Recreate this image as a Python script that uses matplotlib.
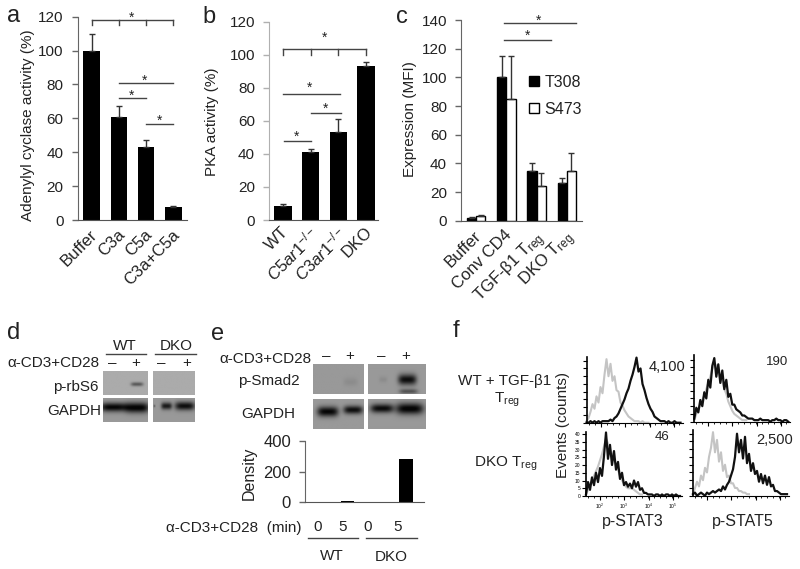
import numpy as np
import matplotlib
matplotlib.use('Agg')
import matplotlib.pyplot as plt
from matplotlib.patches import Patch
from matplotlib.transforms import ScaledTranslation

W, H = 800, 569

plt.rcParams['font.family'] = ['Liberation Sans', 'DejaVu Sans']
plt.rcParams['mathtext.fontset'] = 'custom'
plt.rcParams['mathtext.rm'] = 'Liberation Sans'
plt.rcParams['mathtext.it'] = 'Liberation Sans:italic'
plt.rcParams['text.color'] = '#222222'

# panel a
a_labels = ['Buffer', 'C3a', 'C5a', 'C3a+C5a']
a_values = [100, 61, 43, 7.5]
a_errors = [10, 6.5, 4.5, 1]

# panel b
b_labels = ['WT', r'$\mathit{C5ar1}^{-/-}$', r'$\mathit{C3ar1}^{-/-}$', 'DKO']
b_values = [8.5, 41, 53.5, 93]
b_errors = [1.3, 1.8, 7.5, 2.5]

# panel c
c_labels = ['Buffer', 'Conv CD4', r'TGF-β1 T$_{\mathrm{reg}}$', r'DKO T$_{\mathrm{reg}}$']
c_t308 = [2, 100, 35, 26]
c_t308_err = [0.5, 15, 5, 4]
c_s473 = [3, 85, 24, 35]
c_s473_err = [1, 30, 9, 12]

# panel e density
e_values = [0, 5, 0, 280]

# blot bands: x centre, y centre, half width, half height, darkness
d_rbs6_wt = [(0.76, 0.57, 0.14, 0.08, 0.33)]
d_rbs6_dko = []
d_gapdh_wt = [(0.23, 0.38, 0.30, 0.19, 0.58), (0.76, 0.40, 0.27, 0.22, 0.60)]
d_gapdh_dko = [(0.32, 0.33, 0.13, 0.15, 0.50), (0.76, 0.33, 0.24, 0.18, 0.55), (0.03, 0.33, 0.02, 0.05, 0.25)]
e_smad_wt = [(0.74, 0.60, 0.14, 0.14, 0.05)]
e_smad_dko = [(0.68, 0.52, 0.16, 0.18, 0.55), (0.70, 0.92, 0.16, 0.08, 0.28), (0.26, 0.52, 0.07, 0.10, 0.05)]
e_gapdh_wt = [(0.29, 0.42, 0.21, 0.17, 0.58), (0.79, 0.36, 0.19, 0.14, 0.55)]
e_gapdh_dko = [(0.24, 0.31, 0.20, 0.15, 0.56), (0.72, 0.32, 0.24, 0.19, 0.60)]

# panel f histograms, counts per two channels
f_tl_grey = [1, 3, 7, 12, 9, 17, 13, 23, 19, 31, 41, 30, 38, 27, 30, 21, 20, 13, 11, 8, 6, 4, 3, 2, 1, 1, 1, 0, 1, 0, 0, 0]
f_tl_black = [0, 0, 1, 0, 1, 0, 1, 0, 1, 1, 1, 1, 2, 1, 3, 4, 6, 9, 12, 15, 19, 22, 27, 31, 36, 42, 33, 35, 25, 21, 16, 12,
              9, 7, 4, 3, 2, 1, 1, 1, 0, 1, 0, 0, 1, 0, 0, 0]
f_tr_grey = [1, 5, 8, 11, 14, 17, 21, 25, 29, 34, 38, 36, 33, 29, 26, 21, 18, 13, 10, 7, 5, 4, 3, 2, 1, 1, 1]
f_tr_black = [2, 9, 6, 14, 10, 19, 15, 27, 22, 36, 41, 29, 37, 25, 33, 21, 27, 16, 18, 11, 11, 8, 7, 6, 4, 4, 3, 2, 2, 2,
              1, 1, 1, 2, 1, 1, 1, 1, 0, 1, 1, 2, 1, 1, 0, 1, 1, 0]
f_bl_grey = [1, 4, 8, 10, 13, 16, 19, 23, 27, 32, 37, 34, 30, 27, 24, 20, 17, 13, 10, 8, 6, 5, 5, 5, 4, 3, 2, 1, 1]
f_bl_black = [1, 9, 4, 12, 7, 15, 9, 18, 13, 26, 41, 24, 33, 20, 29, 17, 22, 11, 15, 7, 9, 6, 8, 5, 10, 6, 9, 4, 5, 2,
              2, 1, 1, 1, 0, 1, 1, 0, 1, 0, 1, 1, 0, 1, 0, 1, 0, 0]
f_br_grey = [1, 5, 9, 6, 13, 10, 18, 15, 25, 31, 41, 28, 36, 22, 28, 16, 20, 12, 13, 8, 8, 5, 5, 3, 3, 2, 2, 1, 1]
f_br_black = [1, 2, 0, 1, 2, 1, 0, 2, 1, 2, 3, 2, 3, 4, 3, 6, 4, 7, 9, 13, 17, 25, 40, 28, 36, 24, 38, 21, 27, 16, 21, 14,
              16, 9, 14, 8, 13, 7, 12, 6, 7, 3, 3, 2, 1, 1, 1, 1]
f_log_labels = ['$10^2$', '$10^3$', '$10^4$', '$10^5$']
f_log_ticks = [14, 38, 63, 87]
f_count_ticks = [0, 5, 10, 15, 20, 25, 30, 35, 40]

fig = plt.figure(figsize=(W / 100, H / 100), dpi=100)


def px_axes(x0, y0, x1, y1):
    return fig.add_axes([x0 / W, 1 - y1 / H, (x1 - x0) / W, (y1 - y0) / H])


def txt(x, y, s, size=11, ha='center', **kw):
    fig.text(x / W, 1 - y / H, s, fontsize=size, ha=ha, va='center', **kw)


def hline(x0, x1, y, color='#444444', lw=1):
    fig.add_artist(plt.Line2D([x0 / W, x1 / W], [1 - y / H, 1 - y / H], color=color, lw=lw))


def style_bar_axes(ax, ylabel_ticks, left_color='#666666', size=11):
    for s in ['top', 'right']:
        ax.spines[s].set_visible(False)
    ax.spines['left'].set_color(left_color)
    ax.spines['bottom'].set_color('#555555')
    ax.set_yticks(ylabel_ticks)
    ax.tick_params(axis='y', length=4, width=1, color=left_color, labelsize=size, pad=6, labelcolor='#222222')
    ax.tick_params(axis='x', length=0, labelsize=12, pad=5, labelcolor='#222222')


def rotate_labels(ax, dx=0, dy=0):
    offset = ScaledTranslation(dx / 100, dy / 100, fig.dpi_scale_trans)
    for lab in ax.get_xticklabels():
        lab.set_rotation(45)
        lab.set_ha('right')
        lab.set_va('top')
        lab.set_rotation_mode('anchor')
        lab.set_transform(lab.get_transform() + offset)


def sig_line(ax, x0, x1, y, star_x, star_y, drops=None, drop=3):
    ax.plot([x0, x1], [y, y], color='#444444', lw=1, clip_on=False)
    for d in drops or []:
        ax.plot([d, d], [y, y - drop], color='#444444', lw=1, clip_on=False)
    ax.text(star_x, star_y - 1, '*', fontsize=10, ha='center', va='center', clip_on=False)


# a
ax = px_axes(77.5, 16.7, 187, 220)
ax.bar(range(4), a_values, width=0.61, color='black', yerr=[[0] * 4, a_errors],
       error_kw=dict(ecolor='#333333', elinewidth=1, capsize=2.5, capthick=1, clip_on=False))
ax.set_xlim(-0.52, 3.5)
ax.set_ylim(0, 120)
style_bar_axes(ax, range(0, 121, 20))
ax.set_xticks(range(4))
ax.set_xticklabels(a_labels)
rotate_labels(ax, dx=-2)
sig_line(ax, 0, 3, 118, 1.48, 120.5, drops=[0, 1, 2, 3], drop=3)
sig_line(ax, 1, 2.98, 81, 1.93, 83)
sig_line(ax, 1, 2, 72, 1.47, 74.5)
sig_line(ax, 2, 3, 56.5, 2.48, 59.5)
txt(28.3, 125, 'Adenylyl cyclase activity (%)', rotation=90)
txt(14, 16, 'a', size=17)

# b
ax = px_axes(269, 21.7, 378, 220)
ax.bar(range(4), b_values, width=0.63, color='black', yerr=[[0] * 4, b_errors],
       error_kw=dict(ecolor='#333333', elinewidth=1, capsize=2.5, capthick=1, clip_on=False))
ax.set_xlim(-0.51, 3.43)
ax.set_ylim(0, 120)
style_bar_axes(ax, range(0, 121, 20), left_color='#b0b0b0')
ax.set_xticks(range(4))
ax.set_xticklabels(b_labels)
rotate_labels(ax, dx=-2, dy=3)
sig_line(ax, 0, 3, 103.3, 1.5, 111, drops=[0, 1, 2, 3], drop=3.3)
sig_line(ax, 0, 2.05, 76, 0.94, 81)
sig_line(ax, 1, 2.1, 64.5, 1.52, 68.5)
sig_line(ax, 0.05, 1, 48, 0.5, 51.5)
txt(211.7, 121.7, 'PKA activity (%)', rotation=90)
txt(209, 16.7, 'b', size=17)

# c
ax = px_axes(461, 20, 582, 220.7)
x = np.arange(4)
bw = 0.305
ax.bar(x - bw / 2, c_t308, width=bw, color='black', edgecolor='black', lw=1, yerr=[[0] * 4, c_t308_err],
       error_kw=dict(ecolor='#333333', elinewidth=1, capsize=2, capthick=1, clip_on=False))
ax.bar(x + bw / 2, c_s473, width=bw, color='white', edgecolor='black', lw=1, yerr=[[0] * 4, c_s473_err],
       error_kw=dict(ecolor='#333333', elinewidth=1, capsize=2, capthick=1, clip_on=False))
ax.set_xlim(-0.5, 3.5)
ax.set_ylim(0, 140)
style_bar_axes(ax, range(0, 141, 20))
ax.set_xticks(x)
ax.set_xticklabels(c_labels)
rotate_labels(ax, dx=-3)
sig_line(ax, 0.92, 3.29, 137.7, 2.05, 140.5)
sig_line(ax, 0.92, 2.47, 126, 1.69, 130)
handles = [Patch(facecolor='black', edgecolor='black'), Patch(facecolor='white', edgecolor='black')]
fig.legend(handles, ['T308', 'S473'], loc='upper left', bbox_to_anchor=(524.5 / W, 1 - 70 / H), frameon=False,
           fontsize=11.5, handlelength=0.6, handleheight=0.6, handletextpad=0.35, labelspacing=0.75,
           borderpad=0.3, borderaxespad=0)
txt(410, 119, 'Expression (MFI)', rotation=90)
txt(401.7, 16.7, 'c', size=17)


# blots
def draw_blot(x0, y0, x1, y1, bg, bands):
    nx = int((x1 - x0) * 2)
    ny = int((y1 - y0) * 2)
    xx, yy = np.meshgrid(np.linspace(0, 1, nx), np.linspace(0, 1, ny))
    img = np.full((ny, nx), float(bg))
    for cx, cy, hw, hh, dark in bands:
        img -= dark * np.exp(-((xx - cx) / hw) ** 4 - ((yy - cy) / hh) ** 2)
    ax = px_axes(x0, y0, x1, y1)
    ax.imshow(np.clip(img, 0.02, 1), cmap='gray', vmin=0, vmax=1, aspect='auto', interpolation='bilinear')
    ax.axis('off')


draw_blot(102.7, 370.7, 147.3, 394.7, 0.67, d_rbs6_wt)
draw_blot(152.7, 370.7, 194.3, 394.7, 0.67, d_rbs6_dko)
draw_blot(102.7, 398.3, 147.3, 422.3, 0.60, d_gapdh_wt)
draw_blot(152.7, 398.3, 194.3, 422.3, 0.60, d_gapdh_dko)
draw_blot(312.7, 364, 363.3, 393.7, 0.60, e_smad_wt)
draw_blot(368, 364, 426, 393.7, 0.60, e_smad_dko)
draw_blot(312.7, 399.3, 363.3, 428.7, 0.60, e_gapdh_wt)
draw_blot(368, 399.3, 426, 428.7, 0.60, e_gapdh_dko)

# d text
txt(14, 333, 'd', size=17)
txt(125, 346, 'WT')
txt(176.7, 346, 'DKO')
hline(106, 145.7, 353.7)
hline(155, 195.7, 353.7)
txt(99.3, 363, 'α-CD3+CD28', ha='right')
for xp, s in zip([112.7, 136, 161.7, 187], ['–', '+', '–', '+']):
    txt(xp, 363, s)
txt(98.7, 386.7, 'p-rbS6', ha='right')
txt(101.7, 411, 'GAPDH', ha='right')

# e text
txt(218, 334, 'e', size=17)
txt(311, 359, 'α-CD3+CD28', ha='right')
for xp, s in zip([326, 350, 381, 406], ['–', '+', '–', '+']):
    txt(xp, 356, s)
txt(269, 380.7, 'p-Smad2')
txt(268, 414, 'GAPDH')

# e density
ax = px_axes(305, 441, 424, 502)
ax.bar(range(4), e_values, width=0.45, color='black')
ax.set_xlim(-0.48, 3.62)
ax.set_ylim(0, 400)
ax.set_xticks([])
style_bar_axes(ax, [0, 200, 400], size=12)
ax.set_xticks([])
txt(249, 473, 'Density', size=11.5, rotation=90)
txt(301, 528, 'α-CD3+CD28  (min)', ha='right')
for xp, s in zip([318, 343, 368, 398], ['0', '5', '0', '5']):
    txt(xp, 527, s)
hline(307.7, 357.7, 537.7)
hline(365.7, 416.7, 537.7)
txt(331.7, 555.7, 'WT')
txt(391.7, 556.7, 'DKO')


# f
def draw_hist(x0, y0, x1, y1, ymax, grey, black, labelled=False):
    ax = px_axes(x0, y0, x1, y1)
    ax.plot(np.arange(len(grey)) * 2, grey, color='#c4c4c4', lw=1.5, clip_on=False)
    ax.plot(np.arange(len(black)) * 2, black, color='#111111', lw=1.6, clip_on=False)
    ax.set_xlim(0, 96)
    ax.set_ylim(0, ymax)
    for s in ['top', 'right']:
        ax.spines[s].set_visible(False)
    ax.spines['left'].set_linewidth(1.2)
    ax.set_yticks(f_count_ticks)
    ax.set_xticks(f_log_ticks)
    ax.set_xticks(list(range(2, 96, 6)), minor=True)
    ax.tick_params(axis='both', which='major', length=3, width=0.8, labelsize=3.5, pad=1)
    ax.tick_params(axis='x', which='minor', length=1.5, width=0.6)
    if labelled:
        ax.set_xticklabels(f_log_labels)
    else:
        ax.set_xticklabels([])
        ax.set_yticklabels([])


draw_hist(586.5, 357, 682.5, 422.7, 42.4, f_tl_grey, f_tl_black)
draw_hist(694.3, 355, 790.3, 421.7, 43, f_tr_grey, f_tr_black)
draw_hist(586, 431.7, 682, 496, 41.5, f_bl_grey, f_bl_black, labelled=True)
draw_hist(693, 430, 789, 495.7, 42.4, f_br_grey, f_br_black)

txt(456, 330.7, 'f', size=17)
txt(505, 380.7, 'WT + TGF-β1')
txt(506.7, 400, r'T$_{\mathrm{reg}}$')
txt(505.7, 464, r'DKO T$_{\mathrm{reg}}$')
txt(563, 425, 'Events (counts)', rotation=90)
txt(685, 367, '4,100', ha='right', size=10.5)
txt(776.7, 361.7, '190', size=9.5)
txt(661.7, 436.7, '46', size=9.5)
txt(792.7, 440, '2,500', ha='right', size=10.5)
txt(633, 521.7, 'p-STAT3', size=11.5)
txt(743, 521.7, 'p-STAT5', size=11.5)

plt.savefig('out.png', dpi=100)
